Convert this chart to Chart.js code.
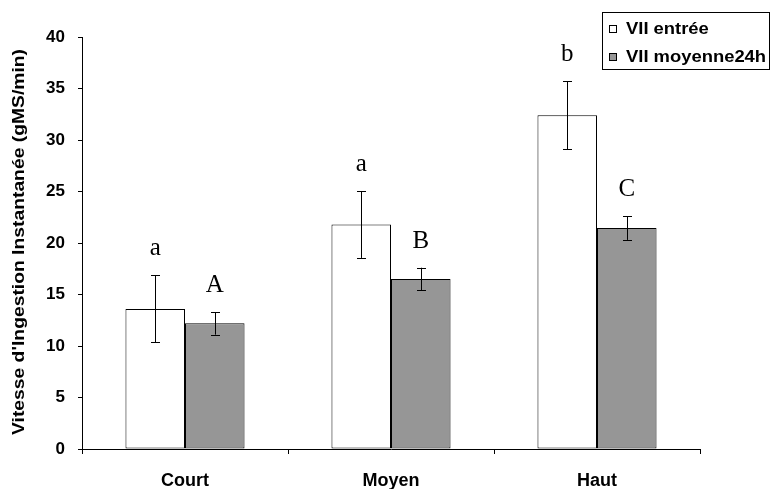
<!DOCTYPE html>
<html>
<head>
<meta charset="utf-8">
<script src="https://cdn.jsdelivr.net/npm/chart.js@4"></script>
<style>
  html, body { margin: 0; padding: 0; background: #ffffff; }
  #wrap { width: 771px; height: 489px; position: relative; }
</style>
</head>
<body>
<div id="wrap"><canvas id="c" width="771" height="489"></canvas></div>
<script>
// ---- Data ----
const categories = ['Court', 'Moyen', 'Haut'];
const seriesNames = ['VII entrée', 'VII moyenne24h'];
const vilEntree = [13.6, 21.8, 32.4];
const vilMoyenne24h = [12.2, 16.5, 21.45];
const errEntree = [3.25, 3.25, 3.3];
const errMoyenne24h = [1.1, 1.1, 1.15];
const lettersEntree = ['a', 'a', 'b'];
const lettersMoyenne24h = ['A', 'B', 'C'];
const yTicks = [0, 5, 10, 15, 20, 25, 30, 35, 40];
const yTitle = "Vitesse d'Ingestion Instantanée (gMS/min)";

const FONT = "'Liberation Sans', Arial, sans-serif";
const SERIF = "'Liberation Serif', 'Times New Roman', serif";

const errorBarsPlugin = {
  id: 'errorBars',
  afterDatasetsDraw(chart) {
    const ctx = chart.ctx;
    const y = chart.scales.y;
    chart.data.datasets.forEach((ds, di) => {
      const meta = chart.getDatasetMeta(di);
      meta.data.forEach((bar, i) => {
        const v = ds.data[i];
        const e = ds.errors[i];
        const x = bar.x;
        const yTop = y.getPixelForValue(v + e);
        const yBot = y.getPixelForValue(v - e);
        ctx.save();
        ctx.strokeStyle = '#000000';
        ctx.lineWidth = 1;
        ctx.beginPath();
        ctx.moveTo(Math.round(x) + 0.5, yTop);
        ctx.lineTo(Math.round(x) + 0.5, yBot);
        ctx.moveTo(Math.round(x) - 4, Math.round(yTop) + 0.5);
        ctx.lineTo(Math.round(x) + 5, Math.round(yTop) + 0.5);
        ctx.moveTo(Math.round(x) - 4, Math.round(yBot) + 0.5);
        ctx.lineTo(Math.round(x) + 5, Math.round(yBot) + 0.5);
        ctx.stroke();
        // significance letter
        ctx.fillStyle = '#000000';
        ctx.font = '25px ' + SERIF;
        ctx.textAlign = 'center';
        ctx.textBaseline = 'alphabetic';
        ctx.fillText(ds.letters[i], x, yTop - 20);
        ctx.restore();
      });
    });
  }
};

// y-axis title drawn as real text, slightly stretched along its length like the reference
const yTitlePlugin = {
  id: 'yTitleStretch',
  afterDraw(chart) {
    const ctx = chart.ctx;
    const area = chart.chartArea;
    ctx.save();
    ctx.font = 'bold 16px ' + FONT;
    const w = ctx.measureText(yTitle).width;
    const target = 386;
    ctx.translate(20, (area.top + area.bottom) / 2 - 1);
    ctx.rotate(-Math.PI / 2);
    ctx.scale(target / w, 1);
    ctx.fillStyle = '#000000';
    ctx.textAlign = 'center';
    ctx.textBaseline = 'middle';
    ctx.fillText(yTitle, 0, 0);
    ctx.restore();
  }
};

const legendBoxPlugin = {
  id: 'legendBox',
  afterDraw(chart) {
    const ctx = chart.ctx;
    const left = 602, top = 12, right = 770, bottom = 69;
    ctx.save();
    ctx.fillStyle = '#ffffff';
    ctx.fillRect(left, top, right - left, bottom - top);
    ctx.strokeStyle = '#000000';
    ctx.lineWidth = 1;
    ctx.strokeRect(left + 0.5, top + 0.5, right - left - 1, bottom - top);
    const rows = [29, 57];
    chart.data.datasets.forEach((ds, i) => {
      const cy = rows[i];
      ctx.fillStyle = ds.backgroundColor;
      ctx.fillRect(609, cy - 4, 8, 8);
      ctx.strokeStyle = '#000000';
      ctx.strokeRect(609.5, cy - 3.5, 7, 7);
      ctx.save();
      ctx.translate(626, cy + 1);
      ctx.scale(1.15, 1);
      ctx.fillStyle = '#000000';
      ctx.font = 'bold 16px ' + FONT;
      ctx.textAlign = 'left';
      ctx.textBaseline = 'middle';
      ctx.fillText(ds.label, 0, 0);
      ctx.restore();
    });
    ctx.restore();
  }
};

new Chart(document.getElementById('c'), {
  type: 'bar',
  data: {
    labels: categories,
    datasets: [
      {
        label: seriesNames[0],
        data: vilEntree,
        errors: errEntree,
        letters: lettersEntree,
        backgroundColor: '#ffffff',
        borderColor: '#000000',
        borderWidth: 1,
        borderSkipped: false
      },
      {
        label: seriesNames[1],
        data: vilMoyenne24h,
        errors: errMoyenne24h,
        letters: lettersMoyenne24h,
        backgroundColor: '#969696',
        borderColor: '#000000',
        borderWidth: 1,
        borderSkipped: false
      }
    ]
  },
  options: {
    responsive: false,
    animation: false,
    devicePixelRatio: 1,
    layout: { padding: { left: 0, top: 37, right: 71, bottom: 0 } },
    plugins: {
      legend: { display: false },
      tooltip: { enabled: false }
    },
    datasets: {
      bar: { categoryPercentage: 0.578, barPercentage: 1.0 }
    },
    scales: {
      x: {
        grid: {
          display: true,
          drawOnChartArea: false,
          drawTicks: true,
          tickLength: 5,
          color: '#000000',
          offset: true
        },
        border: { display: true, color: '#000000', width: 1 },
        ticks: {
          color: '#000000',
          font: { family: FONT, size: 18, weight: 'bold' },
          padding: 16,
          maxRotation: 0
        },
        afterFit(scale) { scale.height = 40; }
      },
      y: {
        min: 0,
        max: 40,
        afterBuildTicks(scale) { scale.ticks = yTicks.map(v => ({ value: v })); },
        grid: {
          display: true,
          drawOnChartArea: false,
          drawTicks: true,
          tickLength: 4,
          color: '#000000'
        },
        border: { display: true, color: '#000000', width: 1 },
        ticks: {
          color: '#000000',
          font: { family: FONT, size: 17, weight: 'bold' },
          padding: 13
        },
        title: { display: false },
        afterFit(scale) { scale.width = 82; }
      }
    }
  },
  plugins: [errorBarsPlugin, yTitlePlugin, legendBoxPlugin]
});
</script>
</body>
</html>
